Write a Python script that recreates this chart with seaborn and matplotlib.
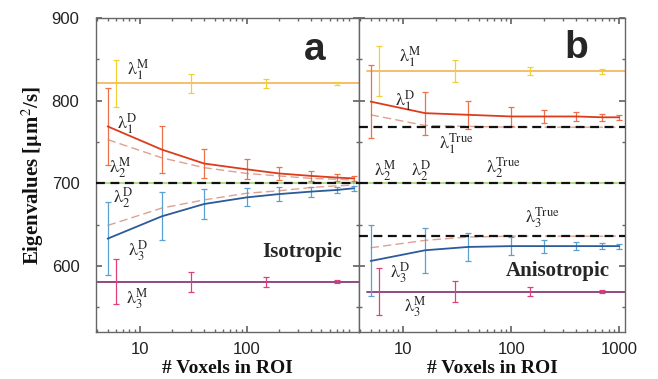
import numpy as np
import matplotlib
matplotlib.use("Agg")
import matplotlib.pyplot as plt
import seaborn as sns

# ----------------------------------------------------------------
# Data
# ----------------------------------------------------------------
n_D = [5, 16, 40, 100, 200, 400, 700, 1000]
n_M = [6, 30, 150, 700]

# panel a - isotropic
a_l1M, a_l1M_err = 821, [28, 12, 5, 2]
a_l3M, a_l3M_err = 581, [27, 12, 6, 2]
a_l1D = [769, 741, 724, 717, 712, 709, 707, 706]
a_l1D_err = [47, 29, 18, 12, 8, 6, 4, 3]
a_l3D = [633, 660, 675, 683, 687, 690, 692, 694]
a_l3D_err = [44, 29, 18, 11, 8, 6, 4, 3]
a_l1D_dash = [753, 731, 719, 712, 709, 706, 705, 704]
a_l3D_dash = [649, 670, 680, 688, 691, 695, 697, 698]
a_true = [700]

# panel b - anisotropic
b_l1M, b_l1M_err = 836, [30, 13, 5, 3]
b_l3M, b_l3M_err = 569, [29, 13, 5, 2]
b_l1D = [799, 785, 783, 781, 781, 781, 780, 780]
b_l1D_err = [44, 26, 17, 11, 8, 5, 4, 3]
b_l3D = [606, 619, 623, 624, 624, 624, 624, 624]
b_l3D_err = [43, 27, 17, 11, 8, 5, 4, 3]
b_l1D_dash = [783, 770, 769, 768, 768, 768, 768, 768]
b_l3D_dash = [622, 631, 635, 636, 636, 636, 636, 636]
b_true = [768, 700, 636]

# ----------------------------------------------------------------
# Style
# ----------------------------------------------------------------
sns.set_theme(style="ticks")
plt.rcParams["font.family"] = ["Liberation Sans", "DejaVu Sans"]
plt.rcParams["mathtext.fontset"] = "stix"

C_YEL_LINE = "#f6b860"
C_YEL_ERR = "#f2d030"
C_RED_LINE = "#dc3c1c"
C_RED_ERR = "#ee7048"
C_DASH = "#e0a090"
C_BLUE_LINE = "#2c5a9a"
C_BLUE_ERR = "#5aa0d0"
C_PUR_LINE = "#8a3a7a"
C_PUR_ERR = "#e0407a"
C_GREEN = "#a0d870"
SERIF = ["Liberation Serif", "DejaVu Serif"]

fig = plt.figure(figsize=(6.58, 3.79), dpi=100)
ax_a = fig.add_axes([0.146, 0.124, 0.400, 0.828])
ax_b = fig.add_axes([0.5456, 0.124, 0.404, 0.828], sharey=ax_a)


def draw_panel(ax, l1M, l1M_err, l3M, l3M_err, l1D, l1D_err, l3D, l3D_err,
               l1D_dash, l3D_dash, true_vals, m_start):
    # measured eigenvalues: flat lines with error bars
    ax.axhline(l1M, xmin=m_start, color=C_YEL_LINE, lw=1.3, zorder=2)
    ax.errorbar(n_M, [l1M] * len(n_M), yerr=l1M_err, fmt="none",
                ecolor=C_YEL_ERR, elinewidth=0.9, capsize=2, capthick=0.9)
    ax.axhline(l3M, xmin=m_start, color=C_PUR_LINE, lw=1.3, zorder=2)
    ax.errorbar(n_M, [l3M] * len(n_M), yerr=l3M_err, fmt="none",
                ecolor=C_PUR_ERR, elinewidth=0.9, capsize=2, capthick=0.9)
    ax.axhline(700, color=C_GREEN, lw=1.2, zorder=2)

    # true values
    for v in true_vals:
        ax.axhline(v, color="#111111", lw=1.6, ls=(0, (4, 2.5)), zorder=4)

    # dashed curves
    sns.lineplot(x=n_D, y=l1D_dash, ax=ax, color=C_DASH, lw=1.0,
                 ls=(0, (6, 3)), zorder=3)
    sns.lineplot(x=n_D, y=l3D_dash, ax=ax, color=C_DASH, lw=1.0,
                 ls=(0, (6, 3)), zorder=3)

    # diagonalised eigenvalues
    ax.errorbar(n_D, l1D, yerr=l1D_err, fmt="none", ecolor=C_RED_ERR,
                elinewidth=0.9, capsize=2, capthick=0.9, zorder=3)
    sns.lineplot(x=n_D, y=l1D, ax=ax, color=C_RED_LINE, lw=1.3, zorder=5)
    ax.errorbar(n_D, l3D, yerr=l3D_err, fmt="none", ecolor=C_BLUE_ERR,
                elinewidth=0.9, capsize=2, capthick=0.9, zorder=3)
    sns.lineplot(x=n_D, y=l3D, ax=ax, color=C_BLUE_LINE, lw=1.3, zorder=5)

    ax.set_xscale("log")
    ax.set_xlim(3.9, 1130)
    ax.set_ylim(520, 900)
    ax.set_yticks([600, 700, 800, 900])
    ax.set_yticks(np.arange(550, 900, 50), minor=True)
    ax.tick_params(which="both", direction="in", top=True, right=True,
                   color="#666666", labelsize=12, labelcolor="#222222")
    ax.tick_params(which="major", length=4)
    ax.tick_params(which="minor", length=2)
    ax.tick_params(axis="y", pad=12)
    ax.tick_params(axis="x", pad=7)
    for s in ax.spines.values():
        s.set_color("#666666")
        s.set_linewidth(1.0)
    ax.set_xlabel("# Voxels in ROI", family=SERIF, fontweight="bold",
                  fontsize=14, labelpad=2, color="#111111")


def lab(ax, x, y, s):
    ax.text(x, y, s, fontsize=13, ha="center", va="center", zorder=6)


draw_panel(ax_a, a_l1M, a_l1M_err, a_l3M, a_l3M_err, a_l1D, a_l1D_err,
           a_l3D, a_l3D_err, a_l1D_dash, a_l3D_dash, a_true, 0.0)
draw_panel(ax_b, b_l1M, b_l1M_err, b_l3M, b_l3M_err, b_l1D, b_l1D_err,
           b_l3D, b_l3D_err, b_l1D_dash, b_l3D_dash, b_true, 0.03)

ax_a.set_xticks([10, 100])
ax_a.set_xticklabels(["10", "100"])
ax_b.set_xticks([10, 100, 1000])
ax_b.set_xticklabels(["10", "100", "1000"])
plt.setp(ax_b.get_yticklabels(), visible=False)
ax_a.set_ylabel(r"Eigenvalues [$\mathbf{\mu}$m$^2$/s]", family=SERIF,
                fontweight="bold", fontsize=15, labelpad=4, color="#111111")

L = r"\mathrm{\lambda}"
# panel a labels
lab(ax_a, 9.6, 838, rf"${L}_1^{{\mathrm{{M}}}}$")
lab(ax_a, 7.6, 772, rf"${L}_1^{{\mathrm{{D}}}}$")
lab(ax_a, 6.5, 719, rf"${L}_2^{{\mathrm{{M}}}}$")
lab(ax_a, 6.9, 683, rf"${L}_2^{{\mathrm{{D}}}}$")
lab(ax_a, 9.6, 619, rf"${L}_3^{{\mathrm{{D}}}}$")
lab(ax_a, 9.4, 561, rf"${L}_3^{{\mathrm{{M}}}}$")
ax_a.text(430, 862, "a", fontsize=28, fontweight="bold", ha="center",
          va="center")
ax_a.text(330, 617, "Isotropic", family=SERIF, fontsize=15,
          fontweight="bold", ha="center", va="center")

# panel b labels
lab(ax_b, 11.6, 854, rf"${L}_1^{{\mathrm{{M}}}}$")
lab(ax_b, 10.4, 800, rf"${L}_1^{{\mathrm{{D}}}}$")
lab(ax_b, 31, 748, rf"${L}_1^{{\mathrm{{True}}}}$")
lab(ax_b, 6.8, 716, rf"${L}_2^{{\mathrm{{M}}}}$")
lab(ax_b, 14.7, 716, rf"${L}_2^{{\mathrm{{D}}}}$")
lab(ax_b, 84, 719, rf"${L}_2^{{\mathrm{{True}}}}$")
lab(ax_b, 194, 658, rf"${L}_3^{{\mathrm{{True}}}}$")
lab(ax_b, 9.4, 592, rf"${L}_3^{{\mathrm{{D}}}}$")
lab(ax_b, 13, 551, rf"${L}_3^{{\mathrm{{M}}}}$")
ax_b.text(400, 864, "b", fontsize=28, fontweight="bold", ha="center",
          va="center")
ax_b.text(272, 594, "Anisotropic", family=SERIF, fontsize=15,
          fontweight="bold", ha="center", va="center")

fig.savefig("out.png", dpi=100)
